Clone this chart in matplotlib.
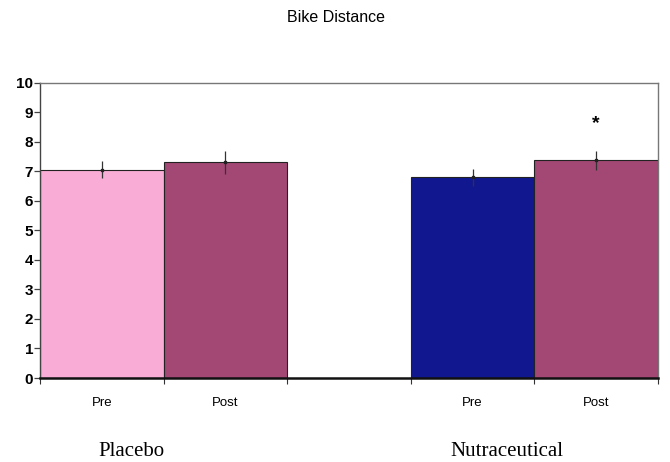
import matplotlib.pyplot as plt
import matplotlib.transforms as mtransforms

# data
conditions = ["Pre", "Post", "", "Pre", "Post"]
values = [7.06, 7.30, None, 6.79, 7.37]
errors = [0.29, 0.38, None, 0.28, 0.32]
colors = ["#F9ACD5", "#A34874", None, "#11188F", "#A34874"]
groups = ["Placebo", "Nutraceutical"]
group_pos = [0.24, 3.28]
star_pos = [4]
star_y = [8.62]

fig = plt.figure(figsize=(6.7, 4.62), dpi=100)
ax = fig.add_axes([40 / 670, 1 - 378 / 462, 618 / 670, (378 - 82.7) / 462])

xs = [i for i, v in enumerate(values) if v is not None]
ax.bar(xs, [values[i] for i in xs], width=1.0,
       color=[colors[i] for i in xs], edgecolor="#222222", linewidth=0.8, zorder=2)
ax.errorbar(xs, [values[i] for i in xs], yerr=[errors[i] for i in xs],
            fmt="s", ms=1.5, color="#222222", ecolor="#333333",
            elinewidth=0.9, capsize=0, zorder=3)
for x, y in zip(star_pos, star_y):
    ax.text(x, y, "*", ha="center", va="center", fontsize=14,
            fontweight="bold", family="Liberation Sans")

ax.set_xlim(-0.5, 4.5)
ax.set_ylim(0, 10)
ax.set_yticks(range(0, 11))
ax.set_yticklabels([str(i) for i in range(0, 11)], fontsize=11,
                   fontweight="bold", family="Liberation Sans")
ax.tick_params(axis="y", direction="out", length=4, width=0.9,
               color="#444444", pad=1)

# tick marks at category boundaries, labels under bars
ax.set_xticks([i - 0.5 for i in range(len(conditions) + 1)])
ax.set_xticklabels([])
ax.tick_params(axis="x", direction="out", length=4, width=0.8, color="#333333")
ax.set_xticks(range(len(conditions)), minor=True)
ax.set_xticklabels(conditions, minor=True, fontsize=9.5,
                   family=["Liberation Sans Narrow", "Liberation Sans"])
ax.tick_params(axis="x", which="minor", length=0, pad=14)

trans = mtransforms.blended_transform_factory(ax.transData, fig.transFigure)
for name, gx in zip(groups, group_pos):
    fig.text(gx, 1 - 451 / 462, name, transform=trans, ha="center", va="center",
             fontsize=15, family="Liberation Serif")

for side in ["top", "right"]:
    ax.spines[side].set_color("#777777")
    ax.spines[side].set_linewidth(1.0)
ax.spines["left"].set_color("#444444")
ax.spines["left"].set_linewidth(1.0)
ax.spines["bottom"].set_color("#111111")
ax.spines["bottom"].set_linewidth(1.8)
ax.spines["bottom"].set_zorder(4)

fig.text(336 / 670, 1 - 17 / 462, "Bike Distance", ha="center", va="center",
         fontsize=11.5, family="Liberation Sans")

fig.savefig("out.png", dpi=100)
